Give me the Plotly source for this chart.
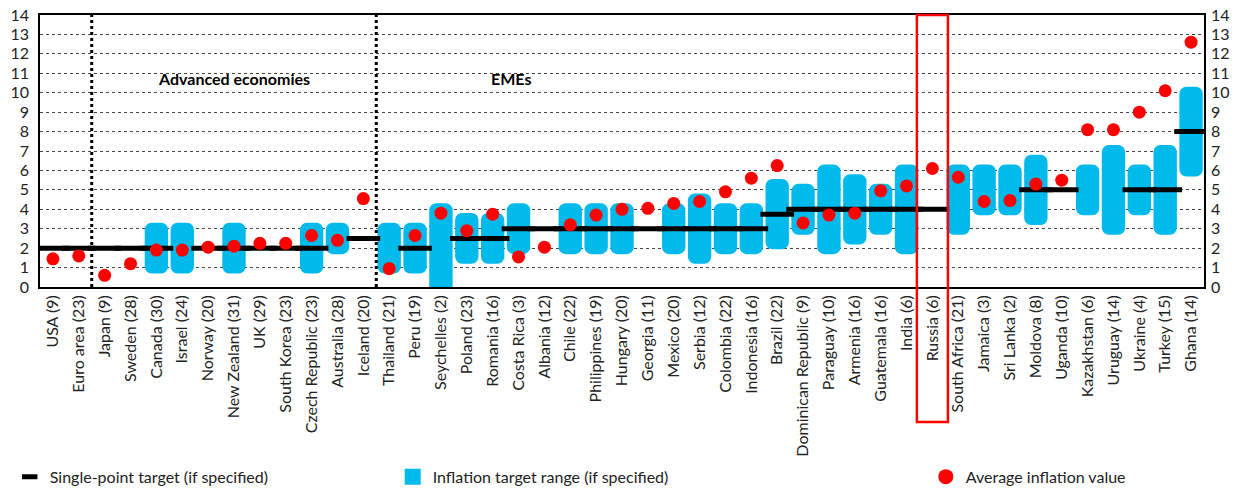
"""
Inflation targets vs average inflation, by country
"""

import plotly.graph_objects as go

# Countries (years of inflation targeting in brackets)
paises = [
    'USA (9)', 'Euro area (23)', 'Japan (9)', 'Sweden (28)', 'Canada (30)', 'Israel (24)',
    'Norway (20)', 'New Zealand (31)', 'UK (29)', 'South Korea (23)', 'Czech Republic (23)',
    'Australia (28)', 'Iceland (20)', 'Thailand (21)', 'Peru (19)', 'Seychelles (2)',
    'Poland (23)', 'Romania (16)', 'Costa Rica (3)', 'Albania (12)', 'Chile (22)',
    'Philippines (19)', 'Hungary (20)', 'Georgia (11)', 'Mexico (20)', 'Serbia (12)',
    'Colombia (22)', 'Indonesia (16)', 'Brazil (22)', 'Dominican Republic (9)',
    'Paraguay (10)', 'Armenia (16)', 'Guatemala (16)', 'India (6)', 'Russia (6)',
    'South Africa (21)', 'Jamaica (3)', 'Sri Lanka (2)', 'Moldova (8)', 'Uganda (10)',
    'Kazakhstan (6)', 'Uruguay (14)', 'Ukraine (4)', 'Turkey (15)', 'Ghana (14)',
]

# Single-point target (None = not specified)
objetivo = [
    2, 2, 2, 2, 2, None, 2, 2, 2, 2, 2, None, 2.5, None, 2, None, 2.5, 2.5, 3, 3, 3,
    3, 3, 3, 3, 3, 3, 3, 3.75, 4, 4, 4, 4, 4, 4, None, None, None, 5, 5,
    None, None, 5, 5, 8,
]

# Target range, lower and upper bound (None = not specified)
rango_min = [
    None, None, None, None, 1, 1, None, 1, None, None, 1, 2, None, 1, 1, 0, 1.5, 1.5, 2, None, 2,
    2, 2, None, 2, 1.5, 2, 2, 2.25, 3, 2, 2.5, 3, 2, None, 3, 4, 4, 3.5, None,
    4, 3, 4, 3, 6,
]
rango_max = [
    None, None, None, None, 3, 3, None, 3, None, None, 3, 3, None, 3, 3, 4, 3.5, 3.5, 4, None, 4,
    4, 4, None, 4, 4.5, 4, 4, 5.25, 5, 6, 5.5, 5, 6, None, 6, 6, 6, 6.5, None,
    6, 7, 6, 7, 10,
]

# Average inflation over the targeting period
inflacion_media = [
    1.45, 1.6, 0.6, 1.2, 1.9, 1.9, 2.05, 2.1, 2.25, 2.25, 2.65, 2.4, 4.55, 0.95, 2.65, 3.8,
    2.9, 3.75, 1.55, 2.05, 3.2, 3.7, 4.0, 4.05, 4.3, 4.4, 4.9, 5.6, 6.25, 3.3,
    3.7, 3.8, 4.95, 5.2, 6.1, 5.65, 4.4, 4.45, 5.3, 5.5, 8.1, 8.1, 9.0, 10.1, 12.6,
]

CIAN = '#00BAEC'
ROJO = '#FF0000'
FUENTE = 'Lato'

alto_rango = [None if a is None else b - a for a, b in zip(rango_min, rango_max)]

fig = go.Figure()

# Rangos objetivo (barras flotantes redondeadas)
fig.add_trace(go.Bar(
    x=paises, y=alto_rango, base=rango_min,
    width=0.44,
    marker=dict(color=CIAN, line=dict(color=CIAN, width=12), cornerradius=1),
    showlegend=False, hoverinfo='skip'
))

# Objetivo puntual
fig.add_trace(go.Scatter(
    x=paises, y=objetivo, mode='markers',
    marker=dict(symbol='line-ew', size=24, line=dict(color='black', width=5)),
    showlegend=False
))

# Inflación media
fig.add_trace(go.Scatter(
    x=paises, y=inflacion_media, mode='markers',
    marker=dict(color=ROJO, size=13),
    showlegend=False
))

# Entradas de leyenda
fig.add_trace(go.Scatter(
    x=[None], y=[None], mode='markers', name='Single-point target (if specified)',
    marker=dict(symbol='line-ew', size=11, line=dict(color='black', width=5)),
    legend='legend'
))
fig.add_trace(go.Scatter(
    x=[None], y=[None], mode='markers', name='Inflation target range (if specified)',
    marker=dict(symbol='square', size=16, color=CIAN),
    legend='legend2'
))
fig.add_trace(go.Scatter(
    x=[None], y=[None], mode='markers', name='Average inflation value',
    marker=dict(size=15, color=ROJO),
    legend='legend3'
))

# Separadores de grupos
for xs in [1.5, 12.5]:
    fig.add_shape(type='line', xref='x', yref='y', x0=xs, x1=xs, y0=0, y1=14,
                  line=dict(color='black', width=3, dash='dot'))

# Recuadro de Rusia
i_rusia = paises.index('Russia (6)')
fig.add_shape(type='rect', xref='x', yref='paper',
              x0=i_rusia - 0.6, x1=i_rusia + 0.6, y0=-0.496, y1=1,
              line=dict(color=ROJO, width=2.5))

fig.add_annotation(x=7, y=10.75, text='<b>Advanced economies</b>', showarrow=False,
                   font=dict(size=16, color='black'))
fig.add_annotation(x=17.7, y=10.75, text='<b>EMEs</b>', showarrow=False,
                   font=dict(size=16, color='black'))

# Leyendas con referencia al contenedor para no empujar el margen inferior
leyenda = dict(orientation='h', yanchor='middle', xanchor='left', yref='container', y=0.031,
               bgcolor='rgba(0,0,0,0)', font=dict(size=16, color='#222'))

fig.update_layout(
    width=1240, height=492,
    margin=dict(l=40, r=36, t=15, b=205),
    plot_bgcolor='white', paper_bgcolor='white',
    font=dict(family=FUENTE, size=16, color='#222'),
    barmode='overlay',
    legend=dict(leyenda, x=-0.026),
    legend2=dict(leyenda, x=0.303),
    legend3=dict(leyenda, x=0.761),
    xaxis=dict(
        type='category', tickangle=-90, showline=True, linecolor='black', linewidth=1.5,
        mirror=True, showgrid=False, ticks='', tickfont=dict(size=16), automargin=False,
        range=[-0.5, len(paises) - 0.5]
    ),
    yaxis=dict(
        range=[0, 14], dtick=1, showline=True, linecolor='black', linewidth=1.5, mirror=True,
        showgrid=True, gridcolor='#444', griddash='dot', gridwidth=1, zeroline=False,
        ticks='', ticklabelstandoff=6, tickfont=dict(size=16), automargin=False
    ),
    yaxis2=dict(
        range=[0, 14], dtick=1, overlaying='y', side='right', showgrid=False,
        zeroline=False, ticks='', ticklabelstandoff=6, tickfont=dict(size=16),
        automargin=False
    ),
)

# Eje derecho duplicado
fig.add_trace(go.Scatter(x=[paises[0]], y=[None], yaxis='y2', showlegend=False))

# Quitar el margen por defecto del navegador
fig.write_html("out.html", config={'displayModeBar': False},
               post_script="document.body.style.margin='0';")
